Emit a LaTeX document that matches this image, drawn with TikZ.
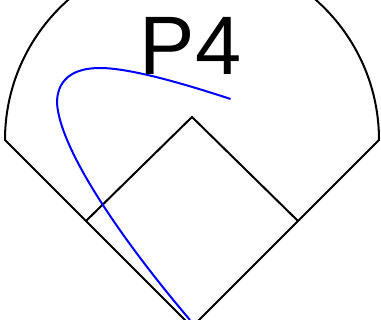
\documentclass[tikz,border=0pt]{standalone}
\usepackage{fontspec}
\setmainfont{Liberation Sans}
\usetikzlibrary{positioning}
\definecolor{pitchBlue}{HTML}{0000FF}

\begin{document}
\begin{tikzpicture}[x=1pt,y=-1pt,
  outline/.style={draw=black,line width=2pt,line join=miter},
  pitch/.style={draw=pitchBlue,line width=2pt},
  zone/.style={font=\fontsize{83}{83}\selectfont,inner sep=0pt,anchor=base}]
  \useasboundingbox (0,0) rectangle (381,320);
  \coordinate (plate) at (192,327);
  \coordinate (left) at (5,140);
  \coordinate (right) at (379,140);
  \coordinate (top) at (192,117);
  \coordinate (boxl) at (86,221);
  \coordinate (boxr) at (298,221);
  \begin{scope}
    \clip (0,0) rectangle (381,320);
    \draw[outline] (plate) -- (left) arc[start angle=180,end angle=0,radius=187pt] -- cycle;
    \draw[outline] (boxl) -- (top) -- (boxr);
    \coordinate (start) at (230.5,99);
    \coordinate (end) at (190,320);
    \draw[pitch] (start) .. controls (185,84) and (130,68) .. (100,68)
      .. controls (70,68) and (57,82) .. (57,103)
      .. controls (60,150) and (122,240) .. (end);
  \end{scope}
  \node[zone] (p4) at (190.5,75) {P4};
\end{tikzpicture}
\end{document}
